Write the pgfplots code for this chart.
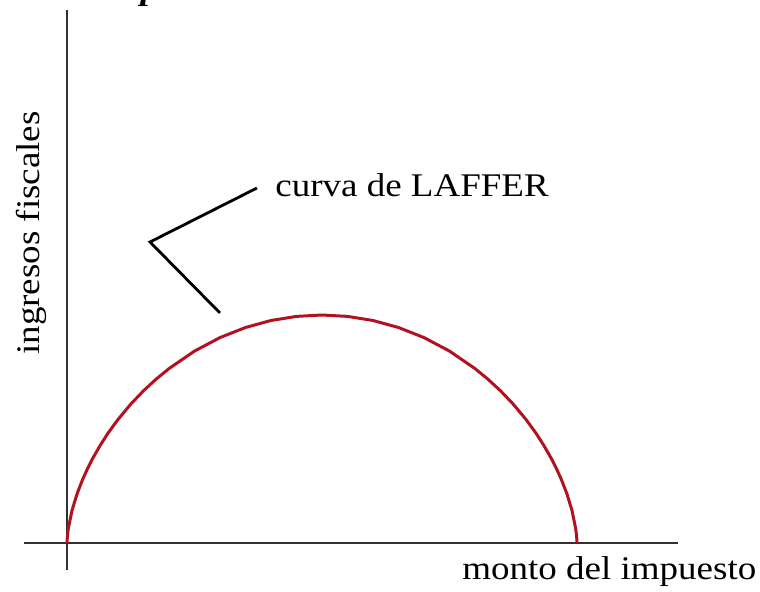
\documentclass[border=0pt]{standalone}
\usepackage{pgfplots}
\pgfplotsset{compat=1.18}
\usepackage{fontspec}
\setmainfont[FakeStretch=1.12]{Liberation Serif}
\definecolor{laffer}{RGB}{178,18,32}
\definecolor{axisgray}{RGB}{50,50,50}

\begin{document}
\begin{tikzpicture}
\fontsize{18.8}{22}\selectfont
\begin{axis}[
  scale only axis,
  width=13.08cm, height=11.2cm,
  xmin=-43, xmax=611,
  ymin=-27, ymax=533,
  axis lines=middle,
  axis line style={-, line width=1.1pt, color=axisgray},
  xtick=\empty, ytick=\empty,
  clip=false,
]
% curva de Laffer (ingresos vs. monto del impuesto)
\addplot[laffer, line width=1.7pt, line join=round] coordinates {
  (0,0)(0.3,5.5)(1.3,14.4)(5.1,32.9)(10.2,49.5)(15.3,62.7)(20.4,74.1)
  (25.5,84.2)(33.2,97.6)(40.8,109.5)(51,123.5)(63.8,138.9)(76.5,152.2)
  (89.3,164.0)(102,174.4)(127.5,191.9)(153,205.4)(178.5,215.5)(204,222.5)
  (229.5,226.6)(255,228)
  (280.5,226.6)(306,222.5)(331.5,215.5)(357,205.4)(382.5,191.9)(408,174.4)
  (420.7,164.0)(433.5,152.2)(446.2,138.9)(459,123.5)(469.2,109.5)
  (476.8,97.6)(484.5,84.2)(489.6,74.1)(494.7,62.7)(499.8,49.5)(504.9,32.9)
  (508.7,14.4)(509.7,5.5)(510,0)};
% flecha del rotulo
\addplot[black, line width=1.6pt] coordinates {(190,355)(83,301)(153,230)};

\node[anchor=base west, inner sep=0pt] at (axis cs:208,346) {curva de LAFFER};
\node[anchor=base west, inner sep=0pt] at (axis cs:395,-37) {monto del impuesto};
\node[anchor=base, rotate=90, inner sep=0pt] at (axis cs:-27,310) {ingresos fiscales};
\node[anchor=base east, inner sep=0pt] at (axis cs:182,543.5)
  {\bfseries\itshape Curva de Laffer según el monto del impuesto.};

\coordinate (bl) at (axis cs:-67,-49);
\coordinate (tr) at (axis cs:693,543);
\end{axis}
\pgfresetboundingbox
\path[use as bounding box] (bl) rectangle (tr);
\end{tikzpicture}
\end{document}
